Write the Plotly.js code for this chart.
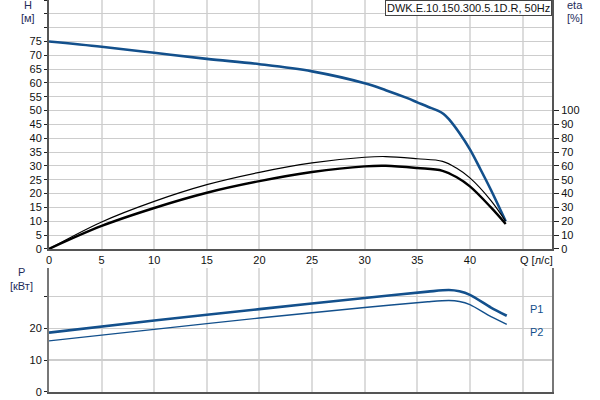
<!DOCTYPE html>
<html><head><meta charset="utf-8">
<script src="https://cdn.plot.ly/plotly-3.0.1.min.js"></script>
<style>html,body{margin:0;padding:0;background:#fff}#c{width:600px;height:400px}</style>
</head><body><div id="c"></div>
<script>
// Head curve H [м]
var qH = [0, 5, 10, 15, 20, 25, 30, 32, 34, 35, 36, 37, 37.5, 38, 39, 40, 41, 42, 43.4];
var hH = [75, 73.1, 70.9, 68.7, 66.8, 64.2, 59.9, 57.4, 54.6, 53.0, 51.4, 49.9, 48.8, 46.9, 41.9, 36.0, 28.8, 21.3, 10.0];
// Efficiency curves eta [%]
var qEta = [0, 5, 10, 15, 20, 25, 30, 32, 35, 37.4, 38.75, 40, 42, 43.4];
var etaThin = [0, 19.5, 34.4, 46.5, 55.4, 62.2, 66.3, 66.8, 65.2, 63.3, 58.3, 51.4, 35, 20];
var etaThick = [0, 16.6, 29.6, 40.6, 49.0, 55.6, 59.7, 60.1, 58.5, 56.5, 51.8, 45.2, 30, 18];
// Power curves P [кВт]
var qP1 = [0, 10, 20, 30, 36, 38, 39, 40, 42, 43.5];
var p1 = [18.7, 22.5, 26.1, 29.6, 31.6, 32.1, 31.7, 30.6, 26.6, 24.0];
var qP2 = [0, 10, 20, 30, 36, 38, 39, 40, 42, 43.5];
var p2 = [16.1, 19.7, 23.3, 26.6, 28.4, 28.8, 28.5, 27.5, 23.7, 21.3];
// Ticks
var xTicks = [0, 5, 10, 15, 20, 25, 30, 35, 40, 45];
var xTickText = ['0', '5', '10', '15', '20', '25', '30', '35', '40', ''];
var hTicks = [0, 5, 10, 15, 20, 25, 30, 35, 40, 45, 50, 55, 60, 65, 70, 75, 80, 85, 90];
var hTickText = ['0','5','10','15','20','25','30','35','40','45','50','55','60','65','70','75','','',''];
var etaTicks = [0, 10, 20, 30, 40, 50, 60, 70, 80, 90, 100];
var pTicks = [0, 10, 20, 30];
var pTickText = ['0', '10', '20', ''];

var blue = '#13508c';
var fnt = {family: 'Liberation Sans, Arial, sans-serif', size: 11, color: '#111'};
var lblCol = '#1e2d5a';

var traces = [
  {x: qEta, y: etaThin, xaxis: 'x', yaxis: 'y2', mode: 'lines', line: {color: '#000', width: 1.2, shape: 'spline', smoothing: 1}, hoverinfo: 'skip'},
  {x: qEta, y: etaThick, xaxis: 'x', yaxis: 'y2', mode: 'lines', line: {color: '#000', width: 2.4, shape: 'spline', smoothing: 1}, hoverinfo: 'skip'},
  {x: qH, y: hH, xaxis: 'x', yaxis: 'y', mode: 'lines', line: {color: blue, width: 2.6, shape: 'spline', smoothing: 1}, hoverinfo: 'skip'},
  {x: qP1, y: p1, xaxis: 'x2', yaxis: 'y3', mode: 'lines', line: {color: blue, width: 2.6, shape: 'spline', smoothing: 0.8}, hoverinfo: 'skip'},
  {x: qP2, y: p2, xaxis: 'x2', yaxis: 'y3', mode: 'lines', line: {color: blue, width: 1.4, shape: 'spline', smoothing: 0.8}, hoverinfo: 'skip'}
];

var xCommon = {range: [0, 47.8], tickvals: xTicks, ticktext: xTickText, showgrid: true, gridcolor: '#dcdcdc', gridwidth: 2,
  zeroline: false, showline: true, linecolor: '#555', linewidth: 2, ticks: '', tickfont: fnt};

var layout = {
  width: 600, height: 400,
  margin: {l: 49, r: 48, t: 0, b: 8},
  paper_bgcolor: '#fff', plot_bgcolor: '#fff',
  showlegend: false,
  font: fnt,
  xaxis: Object.assign({}, xCommon, {domain: [0, 1], anchor: 'y', showticklabels: true}),
  xaxis2: Object.assign({}, xCommon, {domain: [0, 1], anchor: 'y3', showticklabels: false}),
  yaxis: {domain: [0.365, 1], range: [0, 90], tickvals: hTicks, ticktext: hTickText, showgrid: true, gridcolor: '#cdcdcd', gridwidth: 1,
    zeroline: false, showline: true, linecolor: '#555', linewidth: 2, ticks: 'outside', ticklen: 3, tickcolor: '#222', tickfont: fnt},
  yaxis2: {overlaying: 'y', side: 'right', anchor: 'x', range: [0, 180], tickvals: etaTicks, showgrid: false, zeroline: false,
    showline: true, linecolor: '#555', linewidth: 2, ticks: 'outside', ticklen: 5, tickcolor: '#222', tickfont: fnt},
  yaxis3: {domain: [0, 0.316], anchor: 'x2', range: [0, 39], tickvals: pTicks, ticktext: pTickText, showgrid: true, gridcolor: '#cdcdcd', gridwidth: 1.5,
    zeroline: false, showline: true, mirror: true, linecolor: '#777', linewidth: 2, ticks: 'outside', ticklen: 3, tickcolor: '#222', tickfont: fnt},
  annotations: [
    {xref: 'paper', yref: 'paper', x: 1, y: 1, xanchor: 'right', yanchor: 'top', text: 'DWK.E.10.150.300.5.1D.R, 50Hz', showarrow: false,
      bordercolor: '#444', borderwidth: 1, borderpad: 1, bgcolor: '#fff', font: fnt},
    {xref: 'paper', yref: 'paper', x: -0.042, y: 1.0, xanchor: 'center', yanchor: 'top', yshift: 3, text: 'H', showarrow: false, font: {family: fnt.family, size: 11, color: lblCol}},
    {xref: 'paper', yref: 'paper', x: -0.042, y: 1.0, xanchor: 'center', yanchor: 'top', yshift: -10, text: '[м]', showarrow: false, font: {family: fnt.family, size: 11, color: lblCol}},
    {xref: 'paper', yref: 'paper', x: 1.045, y: 1.0, xanchor: 'center', yanchor: 'top', yshift: 3, text: 'eta', showarrow: false, font: {family: fnt.family, size: 11, color: lblCol}},
    {xref: 'paper', yref: 'paper', x: 1.045, y: 1.0, xanchor: 'center', yanchor: 'top', yshift: -10, text: '[%]', showarrow: false, font: {family: fnt.family, size: 11, color: lblCol}},
    {xref: 'paper', yref: 'paper', x: -0.054, y: 0.316, xanchor: 'center', yanchor: 'top', yshift: 4, text: 'P', showarrow: false, font: {family: fnt.family, size: 11, color: lblCol}},
    {xref: 'paper', yref: 'paper', x: -0.054, y: 0.316, xanchor: 'center', yanchor: 'top', yshift: -10, text: '[кВт]', showarrow: false, font: {family: fnt.family, size: 11, color: lblCol}},
    {xref: 'x', yref: 'paper', x: 46.3, y: 0.365, xanchor: 'center', yanchor: 'top', yshift: -3, text: 'Q [л/с]', showarrow: false, font: fnt},
    {xref: 'paper', yref: 'y3', x: 0.97, y: 26, xanchor: 'center', yanchor: 'middle', text: 'P1', showarrow: false, font: {family: fnt.family, size: 11, color: blue}},
    {xref: 'paper', yref: 'y3', x: 0.97, y: 18.8, xanchor: 'center', yanchor: 'middle', text: 'P2', showarrow: false, font: {family: fnt.family, size: 11, color: blue}}
  ]
};
Plotly.newPlot('c', traces, layout, {staticPlot: true, displayModeBar: false});
</script></body></html>
